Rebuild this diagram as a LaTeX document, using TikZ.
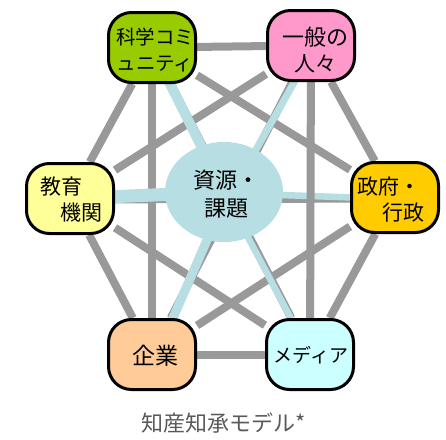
\documentclass[tikz,border=0pt]{standalone}
\usepackage{fontspec}
\newfontfamily\jp{Noto Sans CJK JP}
\usetikzlibrary{shapes.geometric}
\definecolor{cSci}{RGB}{153,204,0}
\definecolor{cGen}{RGB}{255,153,204}
\definecolor{cEdu}{RGB}{255,255,153}
\definecolor{cGov}{RGB}{255,204,0}
\definecolor{cEnt}{RGB}{255,204,153}
\definecolor{cMed}{RGB}{204,255,255}
\definecolor{cRes}{RGB}{183,222,226}
\definecolor{cLink}{RGB}{153,153,153}
\definecolor{cCap}{RGB}{89,89,89}
\pgfdeclarelayer{l0}
\pgfdeclarelayer{l1}
\pgfdeclarelayer{l2}
\pgfdeclarelayer{l3}
\pgfsetlayers{l0,l1,l2,l3,main}
\begin{document}
\begin{tikzpicture}[x=1pt,y=-1pt,
  box/.style={draw=black, line width=3pt, rounded corners=23pt,
    minimum width=87pt, minimum height=70pt, inner sep=0pt},
  lbl/.style={inner sep=0pt, font=\jp\fontsize{21}{26}\selectfont},
  link/.style={draw=cLink, line width=8pt},
  spoke/.style={draw=cRes}]
\useasboundingbox (0,0) rectangle (446,439);
% boxes
\node[box, fill=cSci] (sci) at (152,47.5) {};
\node[box, fill=cGen] (gen) at (311,45.5) {};
\node[box, fill=cEdu] (edu) at (70,198.5) {};
\node[box, fill=cGov] (gov) at (395,197.5) {};
\node[box, fill=cEnt] (ent) at (152,354.5) {};
\node[box, fill=cMed] (med) at (310,354.5) {};
\node[ellipse, fill=cRes, minimum width=118pt, minimum height=100pt, inner sep=0pt] (res) at (224,192) {};
% labels
\node[lbl, align=center, font=\jp\fontsize{19.5}{26}\selectfont] (sciT) at (155,50) {科学コミ\\ュニティ};
\node[lbl, align=center] (genT) at (315,50) {{\fontsize{22}{26}\selectfont 一般の}\\人々};
\node[lbl, align=left] (eduT) at (71,200) {教育\\\hspace*{20pt}機関};
\node[lbl, align=left] (govT) at (391,200) {政府・\\\hspace*{25pt}行政};
\node[lbl, align=center, font=\jp\fontsize{22}{28}\selectfont] (resT) at (226,194) {資源・\\課題};
\node[lbl, font=\jp\fontsize{23}{26}\selectfont] (entT) at (155,356) {企業};
\node[lbl, font=\jp\fontsize{19}{26}\selectfont] (medT) at (311,355) {メディア};
\node[lbl, text=cCap, font=\jp\fontsize{22}{26}\selectfont] (cap) at (224,423) {知産知承モデル*};
% gray links
\begin{pgfonlayer}{l0}
\draw[link] ([yshift=-1pt]edu.center) -- ([yshift=-1pt]gov.center);
\end{pgfonlayer}
\begin{pgfonlayer}{l1}
\draw[spoke, line width=6.5pt] ([yshift=-1pt]res.center) -- ([yshift=-1.5pt]gov.center);
\end{pgfonlayer}
\begin{pgfonlayer}{l2}
\draw[link] (sci) -- (gen);
\draw[link] (ent) -- (med);
\draw[link] (sci) -- (ent);
\draw[link] (gen) -- (med);
\draw[link] (sci) -- (edu);
\draw[link] (gen) -- (gov);
\draw[link] (edu) -- (ent);
\draw[link] (gov) -- (med);
\draw[link] (sci) -- (gov);
\draw[link] (gen) -- (edu);
\draw[link] (edu) -- (med);
\draw[link] (gov) -- (ent);
\draw[link] (sci) -- (med);
\draw[link] (gen) -- (ent);
\end{pgfonlayer}
\begin{pgfonlayer}{l3}
\draw[spoke, line width=10pt] (res.center) -- (sci.center);
\draw[spoke, line width=7pt] ([xshift=8pt]res.center) -- ([xshift=4pt]gen.center);
\draw[spoke, line width=13pt] (res.center) -- (edu.center);
\draw[spoke, line width=9pt] ([xshift=4pt]res.center) -- ([xshift=5pt]ent.center);
\draw[spoke, line width=6.5pt] (res.center) -- (med.center);
\end{pgfonlayer}
\end{tikzpicture}
\end{document}
